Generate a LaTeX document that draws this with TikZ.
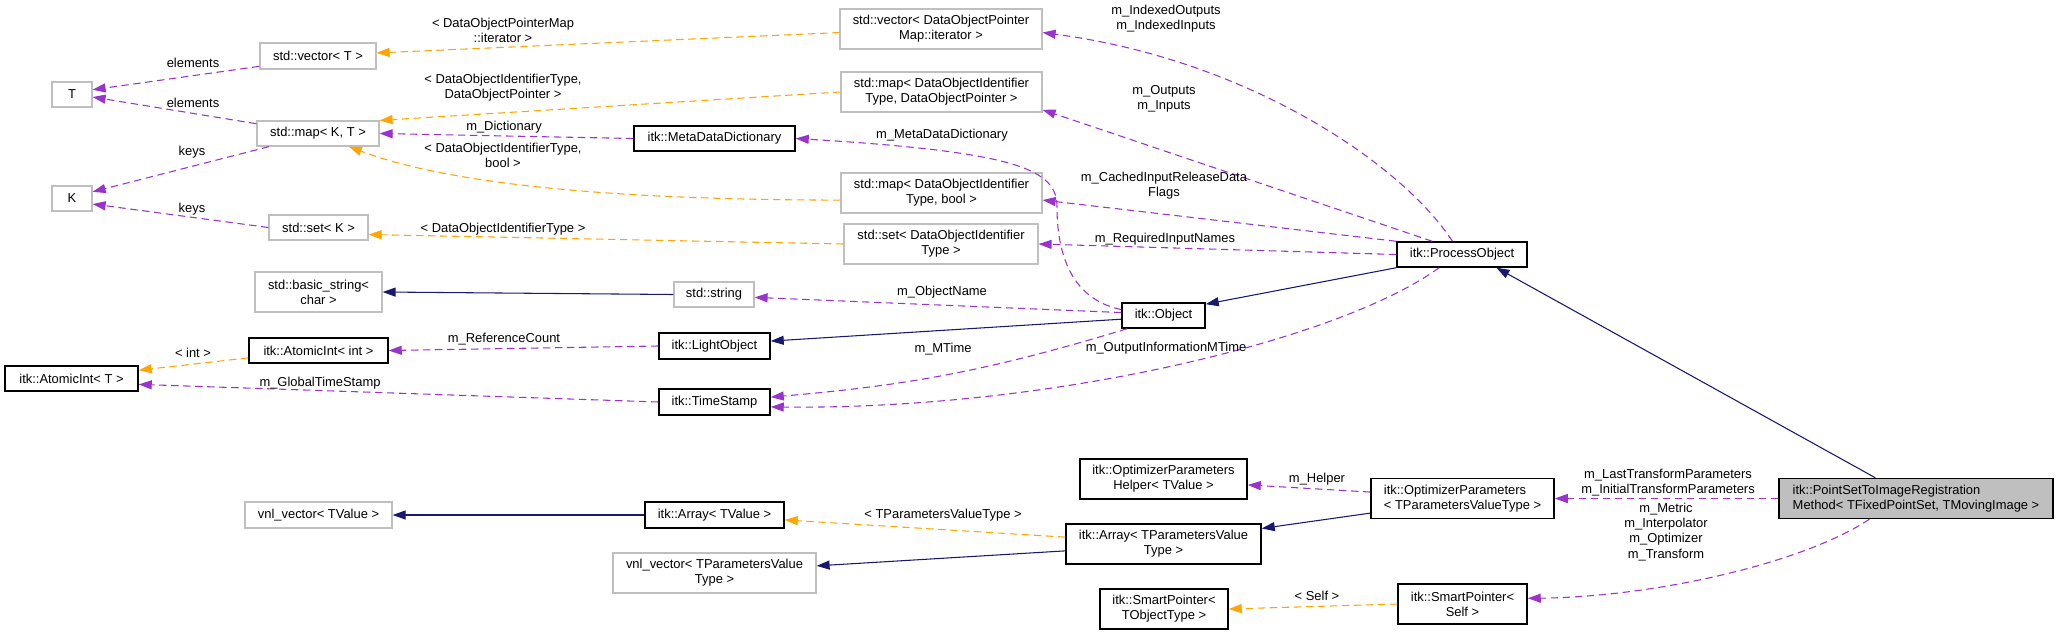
\documentclass[tikz,border=0pt]{standalone}
\usepackage{fontspec}
\setmainfont{Liberation Sans}
\usepackage{tikz}
\usetikzlibrary{arrows.meta}
\usepackage{xcolor}

\definecolor{dxpurple}{HTML}{9A32CD}
\definecolor{dxorange}{HTML}{FFA500}
\definecolor{dxnavy}{HTML}{191970}
\definecolor{dxgray}{HTML}{BFBFBF}

\newlength{\dpx}
\setlength{\dpx}{0.75pt}

\begin{document}
\begin{tikzpicture}[
    x=0.75pt, y=-0.75pt,
    every node/.style={font=\fontsize{9.7pt}{11.3pt}\selectfont},
    sz/.style 2 args={minimum width=#1\dpx, minimum height=#2\dpx},
    gbox/.style={
        rectangle,
        draw=dxgray,
        line width=0.9pt,
        fill=white,
        align=center,
        inner sep=1pt
    },
    bbox/.style={
        rectangle,
        draw=black,
        line width=1.1pt,
        fill=white,
        align=center,
        inner sep=1pt
    },
    lbl/.style={align=center, inner sep=0pt},
    member/.style={
        draw=dxpurple,
        line width=0.8pt,
        dash pattern=on 5.5pt off 3.5pt,
        -{Triangle[length=9.75pt, width=6.75pt]}
    },
    tmpl/.style={
        draw=dxorange,
        line width=0.8pt,
        dash pattern=on 5.5pt off 3.5pt,
        -{Triangle[length=9.75pt, width=6.75pt]}
    },
    inherit/.style={
        draw=dxnavy,
        line width=0.8pt,
        -{Triangle[length=9.75pt, width=6.75pt]}
    }
]
\useasboundingbox (0,0) rectangle (2059,635);

% Column 1
\node[gbox, sz={40}{25}] (T) at (72,94.5) {T};
\node[gbox, sz={40}{25}] (K) at (72,198.5) {K};
\node[bbox, sz={133}{25}] (aiT) at (71.5,378.5) {itk::AtomicInt< T >};

% Column 2
\node[gbox, sz={116}{26}] (vecT) at (318,56) {std::vector< T >};
\node[gbox, sz={122}{25}] (mapKT) at (318,133.5) {std::map< K, T >};
\node[gbox, sz={99}{25}] (setK) at (318.5,227.5) {std::set< K >};
\node[gbox, sz={127}{40}] (bstr) at (318.5,292) {std::basic\_string<\\char >};
\node[bbox, sz={139}{25}] (aiInt) at (318.5,350.5) {itk::AtomicInt< int >};
\node[gbox, sz={147}{26}] (vnlVal) at (318.5,515) {vnl\_vector< TValue >};

% Column 3
\node[bbox, sz={161}{25}] (metaDict) at (714.5,138.5) {itk::MetaDataDictionary};
\node[gbox, sz={80}{25}] (str) at (714,294.5) {std::string};
\node[bbox, sz={111}{26}] (lightObj) at (714.5,346) {itk::LightObject};
\node[bbox, sz={111}{26}] (timeStamp) at (714.5,402) {itk::TimeStamp};
\node[bbox, sz={139}{26}] (arrVal) at (714.5,515) {itk::Array< TValue >};
\node[gbox, sz={203}{40}] (vnlPar) at (714.5,573) {vnl\_vector< TParametersValue\\Type >};

% Column 4
\node[gbox, sz={202}{40}] (vecIt) at (941,29) {std::vector< DataObjectPointer\\Map::iterator >};
\node[gbox, sz={201}{40}] (mapPtr) at (941.5,92) {std::map< DataObjectIdentifier\\Type, DataObjectPointer >};
\node[gbox, sz={201}{40}] (mapBool) at (941.5,193) {std::map< DataObjectIdentifier\\Type, bool >};
\node[gbox, sz={194}{40}] (setId) at (941,244) {std::set< DataObjectIdentifier\\Type >};

% Column 5
\node[bbox, sz={83}{25}] (object) at (1163.5,315.5) {itk::Object};
\node[bbox, sz={167}{40}] (optHelper) at (1163.5,479) {itk::OptimizerParameters\\Helper< TValue >};
\node[bbox, sz={195}{40}] (arrPar) at (1163.5,544) {itk::Array< TParametersValue\\Type >};
\node[bbox, sz={128}{40}] (spObj) at (1164,609) {itk::SmartPointer<\\TObjectType >};

% Column 6
\node[bbox, sz={130}{25}] (procObj) at (1462,254.5) {itk::ProcessObject};
\node[bbox, sz={183}{40}, align=left] (optParams) at (1462.5,498.5) {itk::OptimizerParameters\\< TParametersValueType >};
\node[bbox, sz={129}{40}] (spSelf) at (1462.5,604) {itk::SmartPointer<\\Self >};

% Main class
\node[bbox, sz={274}{40}, align=left, fill=dxgray] (regMethod) at (1916,498.5) {itk::PointSetToImageRegistration\\Method< TFixedPointSet, TMovingImage >};

% Template containers
\draw[member] (vecT.190) -- (T.13) node[lbl] at (193,63) {elements};
\draw[member] (mapKT.171) -- (T.-7) node[lbl] at (193,103) {elements};
\draw[member] (mapKT.195) -- (K.18) node[lbl] at (192,152) {keys};
\draw[member] (setK.west) -- (K.-15) node[lbl] at (192,209) {keys};

\draw[tmpl] (vecIt.182) -- (vecT.3) node[lbl] at (503,30) {< DataObjectPointerMap\\::iterator >};
\draw[tmpl] (mapPtr.west) -- (mapKT.12) node[lbl] at (503,88) {< DataObjectIdentifierType,\\DataObjectPointer >};
\draw[member] (metaDict.west) -- (mapKT.east) node[lbl] at (504,127) {m\_Dictionary};
\draw[tmpl] (mapBool.184) .. controls (620,200) and (450,185) .. (mapKT.-23)
    node[lbl] at (503,155) {< DataObjectIdentifierType,\\bool >};
\draw[tmpl] (setId.west) -- (setK.-8) node[lbl] at (503,229) {< DataObjectIdentifierType >};
\draw[inherit] (str.west) -- (bstr.east);

% ProcessObject members
\draw[member] (procObj.126) .. controls (1403,165) and (1250,60) .. (vecIt.-2)
    node[lbl] at (1166,19) {m\_IndexedOutputs\\m\_IndexedInputs};
\draw[member] (procObj.156) -- (mapPtr.-10) node[lbl] at (1164,99) {m\_Outputs\\m\_Inputs};
\draw[member] (procObj.north west) -- (mapBool.-4) node[lbl] at (1164,186) {m\_CachedInputReleaseData\\Flags};
\draw[member] (procObj.west) -- (setId.east) node[lbl] at (1165,239) {m\_RequiredInputNames};
\draw[member] (procObj.210) .. controls (1340,340) and (1050,410) .. (timeStamp.-5)
    node[lbl] at (1166,348) {m\_OutputInformationMTime};
\draw[inherit] (procObj.south west) -- (object.15);

% Object members
\draw[member] (object.172) .. controls (1075,300) and (1057,260) .. (1057,207)
    .. controls (1057,170) and (1020,152) .. (metaDict.east)
    node[lbl] at (942,135) {m\_MetaDataDictionary};
\draw[member] (object.176) -- (str.-4) node[lbl] at (942,292) {m\_ObjectName};
\draw[member] (object.200) to[bend left=6] (timeStamp.5) node[lbl] at (943,349) {m\_MTime};
\draw[inherit] (object.185) -- (lightObj.5);

% Atomic counters
\draw[member] (lightObj.west) -- (aiInt.east) node[lbl] at (504,339) {m\_ReferenceCount};
\draw[tmpl] (aiInt.186) -- (aiT.7) node[lbl] at (193,353) {< int >};
\draw[member] (timeStamp.west) -- (aiT.-5) node[lbl] at (320,383) {m\_GlobalTimeStamp};

% Registration method
\draw[inherit] (regMethod.153) -- (procObj.-21);
\draw[member] (regMethod.west) -- (optParams.east)
    node[lbl] at (1668,483) {m\_LastTransformParameters\\m\_InitialTransformParameters};
\draw[member] (regMethod.204) .. controls (1800,565) and (1650,597) .. (spSelf.5)
    node[lbl] at (1666,532) {m\_Metric\\m\_Interpolator\\m\_Optimizer\\m\_Transform};
\draw[tmpl] (spSelf.west) -- (spObj.east) node[lbl] at (1317,596) {< Self >};

% Parameters
\draw[member] (optParams.176) -- (optHelper.-4) node[lbl] at (1317,479) {m\_Helper};
\draw[inherit] (optParams.189) -- (arrPar.9);
\draw[tmpl] (arrPar.176) -- (arrVal.-4) node[lbl] at (943,515) {< TParametersValueType >};
\draw[inherit] (arrPar.184) -- (vnlPar.4);
\draw[inherit] (arrVal.west) -- (vnlVal.east);

\end{tikzpicture}
\end{document}
